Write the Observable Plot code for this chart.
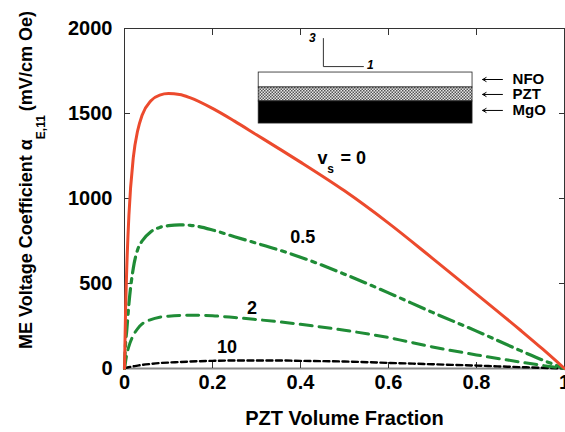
<!DOCTYPE html>
<html><head><meta charset="utf-8">
<script src="https://cdn.jsdelivr.net/npm/d3@7"></script>
<script src="https://cdn.jsdelivr.net/npm/@observablehq/plot@0.6"></script>
<style>body{margin:0;background:#fff} svg{display:block}</style>
</head><body><div id="chart"></div>
<script>
// PZT volume fraction grid
const fraction = [0, 0.0025, 0.005, 0.01, 0.02, 0.03, 0.04, 0.06, 0.08, 0.1, 0.125, 0.15, 0.2, 0.25, 0.3, 0.35, 0.4, 0.5, 0.6, 0.7, 0.8, 0.9, 0.95, 1];
// ME voltage coefficient for each v_s
const vs0  = [0, 350, 580, 900, 1240, 1400, 1490, 1575, 1608, 1617, 1612, 1592, 1530, 1455, 1375, 1295, 1214, 1045, 855, 648, 438, 225, 115, 0];
const vs05 = [0, 150, 220, 380, 590, 700, 750, 805, 830, 840, 845, 842, 815, 775, 737, 698, 655, 555, 445, 330, 220, 105, 50, 0];
const vs2  = [0, 40, 80, 130, 195, 235, 262, 288, 302, 308, 312, 313, 310, 300, 288, 275, 260, 225, 182, 127, 80, 38, 18, 0];
const vs10 = [0, 3, 5, 8, 13, 17, 21, 27, 32, 35, 38, 41, 45, 47, 47, 47, 45, 41, 33, 25, 17, 8, 4, 0];

const xTicks = [0, 0.2, 0.4, 0.6, 0.8, 1];
const xTickLabels = ["0", "0.2", "0.4", "0.6", "0.8", "1"];
const xInnerTicks = [0.2, 0.4, 0.6, 0.8];
const yTicks = [0, 500, 1000, 1500, 2000];
const yInnerTicks = [500, 1000, 1500];

const curveLabels = ["0.5", "2", "10"];
const curveLabelX = [0.405, 0.29, 0.233];
const curveLabelY = [770, 356, 126];
const vsLabelX = [0.45];
const vsLabelY = [1237];

// inset schematic (in chart data units)
const layerNames = ["NFO", "PZT", "MgO"];
const layerFill = ["white", "url(#pztHatch)", "black"];
const layerTop = [1741, 1653, 1571];
const layerBottom = [1653, 1571, 1441];
const layerX1 = 0.305, layerX2 = 0.791;
const arrowY = [1700, 1612, 1518];
const arrowFromX = 0.859, arrowToX = 0.814, layerLabelX = 0.882;
const axisGlyphs = ["3", "1"];
const axisGlyphX = [0.427, 0.559];
const axisGlyphY = [1941, 1782];
const axisCornerX = [0.452, 0.452, 0.543];
const axisCornerY = [1941, 1776, 1776];

const rows = fraction.map((f, i) => ({f, a: vs0[i], b: vs05[i], c: vs2[i], d: vs10[i]}));
const layers = layerNames.map((n, i) => ({n, fill: layerFill[i], top: layerTop[i], bottom: layerBottom[i], ay: arrowY[i]}));
const corner = axisCornerX.map((x, i) => ({x, y: axisCornerY[i]}));
const FONT = "Liberation Sans, Arial, Helvetica, sans-serif";
const green = "#1f8c36";

const chart = Plot.plot({
  width: 565, height: 432,
  marginLeft: 124, marginRight: 1, marginTop: 28, marginBottom: 64,
  style: {fontFamily: FONT, background: "white"},
  x: {domain: [0, 1]},
  y: {domain: [0, 2000]},
  marks: [
    Plot.frame({stroke: "#333", strokeWidth: 1}),
    Plot.ruleY([0], {stroke: "#888", strokeWidth: 2}),
    // inward ticks
    Plot.axisX({anchor: "bottom", ticks: xInnerTicks, tickSize: 6, dy: -6, tickFormat: () => "", stroke: "#333"}),
    Plot.axisX({anchor: "top", ticks: xInnerTicks, tickSize: 6, dy: 6, tickFormat: () => "", stroke: "#333"}),
    Plot.axisY({anchor: "left", ticks: yInnerTicks, tickSize: 6, dx: 6, tickFormat: () => "", stroke: "#333"}),
    Plot.axisY({anchor: "right", ticks: yInnerTicks, tickSize: 6, dx: -6, tickFormat: () => "", stroke: "#333"}),
    // tick labels
    Plot.axisX({anchor: "bottom", ticks: xTicks, tickSize: 0, tickPadding: 6, tickFormat: (d, i) => xTickLabels[i], fontSize: 20, fontWeight: "bold", fill: "black"}),
    Plot.axisY({anchor: "left", ticks: yTicks, tickSize: 0, tickPadding: 12, fontSize: 20, fontWeight: "bold", fill: "black", tickFormat: d => String(d)}),
    Plot.text(["PZT Volume Fraction"], {frameAnchor: "bottom", dy: 50, fontSize: 20, fontWeight: "bold", fill: "black", lineAnchor: "middle"}),
    // curves
    Plot.line(rows, {x: "f", y: "d", stroke: "black", strokeWidth: 2.4, strokeDasharray: "6,3.5", curve: "monotone-x"}),
    Plot.line(rows, {x: "f", y: "c", stroke: green, strokeWidth: 3, strokeDasharray: "12,7", curve: "monotone-x"}),
    Plot.line(rows, {x: "f", y: "b", stroke: green, strokeWidth: 3.2, strokeDasharray: "16,6,4,6", curve: "monotone-x"}),
    Plot.line(rows, {x: "f", y: "a", stroke: "#ec4a2d", strokeWidth: 3, curve: "monotone-x"}),
    // curve labels
    Plot.text(curveLabels, {x: (d, i) => curveLabelX[i], y: (d, i) => curveLabelY[i], text: d => d, fontSize: 18, fontWeight: "bold", fill: "black"}),
    Plot.text(["v"], {x: vsLabelX, y: vsLabelY, fontSize: 18, fontWeight: "bold", fill: "black"}),
    Plot.text(["s"], {x: vsLabelX, y: vsLabelY, dx: 8, dy: 11, fontSize: 12, fontWeight: "bold", fill: "black"}),
    Plot.text(["= 0"], {x: vsLabelX, y: vsLabelY, dx: 18, textAnchor: "start", fontSize: 18, fontWeight: "bold", fill: "black"}),
    // inset
    Plot.rect(layers, {x1: layerX1, x2: layerX2, y1: "bottom", y2: "top", fill: "fill", stroke: "#222", strokeWidth: 0.8}),
    Plot.arrow(layers, {x1: arrowFromX, x2: arrowToX, y1: "ay", y2: "ay", stroke: "black", strokeWidth: 1, headLength: 6}),
    Plot.text(layers, {x: layerLabelX, y: "ay", text: "n", textAnchor: "start", fontSize: 15, fontWeight: "bold", fill: "black"}),
    Plot.line(corner, {x: "x", y: "y", stroke: "#333", strokeWidth: 1}),
    Plot.text(axisGlyphs, {x: (d, i) => axisGlyphX[i], y: (d, i) => axisGlyphY[i], text: d => d, fontSize: 12, fontWeight: "bold", fontStyle: "italic", fill: "black"})
  ]
});

const svg = d3.select(chart);
const defs = svg.insert("defs", ":first-child");
const pat = defs.append("pattern").attr("id", "pztHatch").attr("patternUnits", "userSpaceOnUse").attr("width", 3).attr("height", 3);
pat.append("rect").attr("width", 3).attr("height", 3).attr("fill", "#e8e8e8");
pat.append("rect").attr("width", 1.5).attr("height", 1.5).attr("fill", "#555");
pat.append("rect").attr("x", 1.5).attr("y", 1.5).attr("width", 1.5).attr("height", 1.5).attr("fill", "#555");

const ylab = svg.append("text")
  .attr("transform", "translate(32,180) rotate(-90)")
  .attr("text-anchor", "middle")
  .attr("font-family", FONT).attr("font-weight", "bold").attr("font-size", 18).attr("fill", "black");
ylab.append("tspan").text("ME Voltage Coefficient α");
ylab.append("tspan").attr("dy", 13).attr("font-size", 12).text("E,11");
ylab.append("tspan").attr("dy", -13).attr("dx", 4).text("(mV/cm Oe)");

document.getElementById("chart").append(chart);
</script>
</body></html>
